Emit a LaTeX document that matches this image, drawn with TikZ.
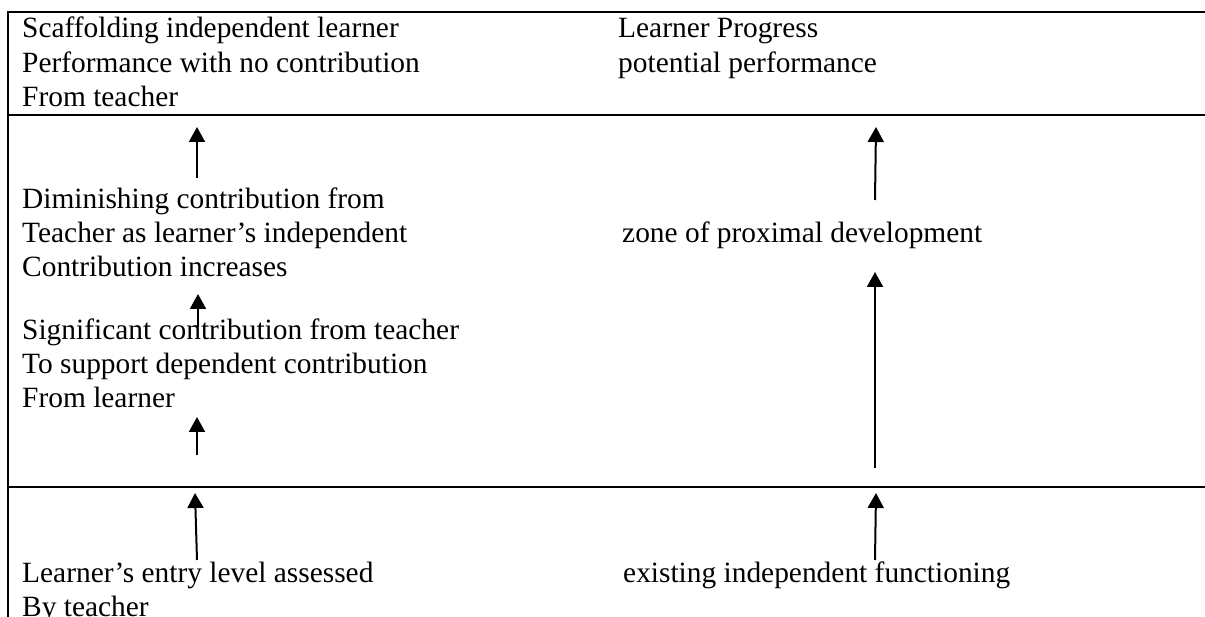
\documentclass[tikz,border=0pt]{standalone}
\usepackage{fontspec}
\setmainfont{Liberation Serif}
\usetikzlibrary{arrows.meta}
\tikzset{
  txt/.style={anchor=base west, inner sep=0pt, font=\fontsize{29.4}{34}\selectfont},
  frame/.style={line width=2pt, line cap=rect},
  uparrow/.style={line width=2pt, -{Triangle[length=15pt,width=16pt]}}
}
\begin{document}
\begin{tikzpicture}[x=1pt,y=-1pt]
\useasboundingbox (0,0) rectangle (1205,617);
% frame
\draw[frame] (1206,12) -- (8,12) -- (8,618);
\draw[frame] (8,115) -- (1206,115);
\draw[frame] (8,487) -- (1206,487);
% row 1
\node[txt] (l1a) at (22,38) {Scaffolding independent learner};
\node[txt] (l1b) at (22,73) {Performance with no contribution};
\node[txt] (l1c) at (22,107) {From teacher};
\node[txt] (r1a) at (618,38) {Learner Progress};
\node[txt] (r1b) at (618,73) {potential performance};
% row 2
\node[txt] (l2a) at (22,209) {Diminishing contribution from};
\node[txt] (l2b) at (22,243) {Teacher as learner’s independent};
\node[txt] (l2c) at (22,277) {Contribution increases};
\node[txt] (l3a) at (22,340) {Significant contribution from teacher};
\node[txt] (l3b) at (22,374) {To support dependent contribution};
\node[txt] (l3c) at (22,408) {From learner};
\node[txt] (r2) at (622,243) {zone of proximal development};
% row 3
\node[txt] (l4a) at (22,582) {Learner’s entry level assessed};
\node[txt] (l4b) at (22,616) {By teacher};
\node[txt] (r3) at (623,582) {existing independent functioning};
% arrow coordinates
\coordinate (a1s) at (197,178); \coordinate (a1e) at (197,127);
\coordinate (a2s) at (198,327); \coordinate (a2e) at (198,294);
\coordinate (a3s) at (197,455); \coordinate (a3e) at (197,417);
\coordinate (a4s) at (197,560); \coordinate (a4e) at (195,493);
\coordinate (b1s) at (875,200); \coordinate (b1e) at (876,127);
\coordinate (b2s) at (875,468); \coordinate (b2e) at (875,272);
\coordinate (b3s) at (875,560); \coordinate (b3e) at (876,493);
\draw[uparrow] (a1s) -- (a1e);
\draw[uparrow] (a2s) -- (a2e);
\draw[uparrow] (a3s) -- (a3e);
\draw[uparrow] (a4s) -- (a4e);
\draw[uparrow] (b1s) -- (b1e);
\draw[uparrow] (b2s) -- (b2e);
\draw[uparrow] (b3s) -- (b3e);
\end{tikzpicture}
\end{document}
